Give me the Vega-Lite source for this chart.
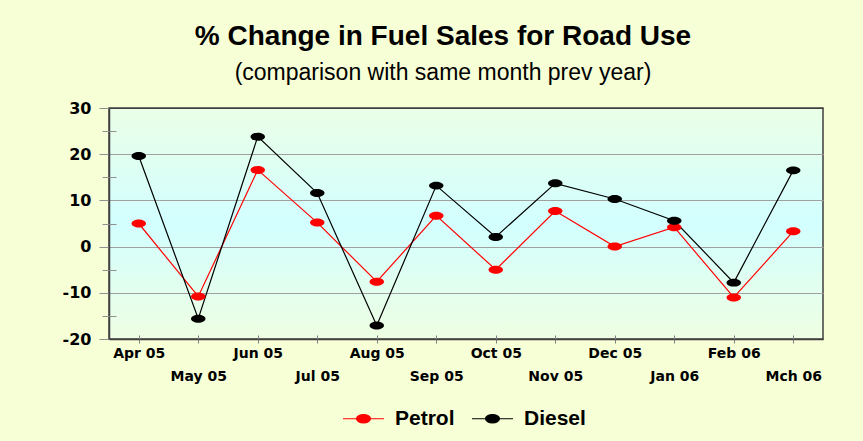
{
  "$schema": "https://vega.github.io/schema/vega-lite/v6.json",
  "width": 714,
  "height": 231,
  "autosize": {"type": "none"},
  "padding": {"left": 109, "top": 108, "right": 40, "bottom": 102},
  "background": "#F7FFD6",
  "title": {
    "text": "% Change in Fuel Sales for Road Use",
    "subtitle": "(comparison with same month prev year)",
    "font": "Liberation Sans",
    "fontSize": 28,
    "fontWeight": "bold",
    "color": "#000000",
    "subtitleFont": "Liberation Sans",
    "subtitleFontSize": 23,
    "subtitleColor": "#000000",
    "subtitlePadding": 11,
    "anchor": "middle",
    "offset": 15,
    "dx": -23
  },
  "config": {
    "view": {
      "stroke": "#404040",
      "strokeWidth": 1.5,
      "fill": {
        "gradient": "linear",
        "x1": 0, "y1": 0, "x2": 0, "y2": 1,
        "stops": [
          {"offset": 0, "color": "#EAFFE6"},
          {"offset": 0.5, "color": "#D2FFFF"},
          {"offset": 1, "color": "#EEFFE2"}
        ]
      }
    },
    "legend": {
      "orient": "none",
      "legendX": 233,
      "legendY": 289,
      "direction": "horizontal",
      "title": null,
      "labelFont": "Liberation Sans",
      "labelFontSize": 21,
      "labelFontWeight": "bold",
      "labelColor": "#000000",
      "symbolType": "M-1,0L1,0M-0.34,0A0.34,0.2 0 1,1 0.34,0A0.34,0.2 0 1,1 -0.34,0Z",
      "symbolSize": 1681,
      "symbolStrokeWidth": 1.2,
      "labelOffset": 10,
      "columnPadding": 14
    }
  },
  "data": {
    "values": [
      {"month": "Apr 05", "fuel": "Petrol", "value": 5.0},
      {"month": "May 05", "fuel": "Petrol", "value": -10.8},
      {"month": "Jun 05", "fuel": "Petrol", "value": 16.6},
      {"month": "Jul 05", "fuel": "Petrol", "value": 5.2},
      {"month": "Aug 05", "fuel": "Petrol", "value": -7.6},
      {"month": "Sep 05", "fuel": "Petrol", "value": 6.7},
      {"month": "Oct 05", "fuel": "Petrol", "value": -5.0},
      {"month": "Nov 05", "fuel": "Petrol", "value": 7.7},
      {"month": "Dec 05", "fuel": "Petrol", "value": 0.0},
      {"month": "Jan 06", "fuel": "Petrol", "value": 4.2},
      {"month": "Feb 06", "fuel": "Petrol", "value": -11.0},
      {"month": "Mch 06", "fuel": "Petrol", "value": 3.3},
      {"month": "Apr 05", "fuel": "Diesel", "value": 19.6},
      {"month": "May 05", "fuel": "Diesel", "value": -15.6},
      {"month": "Jun 05", "fuel": "Diesel", "value": 23.8},
      {"month": "Jul 05", "fuel": "Diesel", "value": 11.6},
      {"month": "Aug 05", "fuel": "Diesel", "value": -17.1},
      {"month": "Sep 05", "fuel": "Diesel", "value": 13.2},
      {"month": "Oct 05", "fuel": "Diesel", "value": 2.1},
      {"month": "Nov 05", "fuel": "Diesel", "value": 13.7},
      {"month": "Dec 05", "fuel": "Diesel", "value": 10.3},
      {"month": "Jan 06", "fuel": "Diesel", "value": 5.6},
      {"month": "Feb 06", "fuel": "Diesel", "value": -7.8},
      {"month": "Mch 06", "fuel": "Diesel", "value": 16.5}
    ]
  },
  "resolve": {"axis": {"x": "independent", "y": "independent"}},
  "layer": [
    {
      "mark": {"type": "line", "strokeWidth": 1.2},
      "encoding": {
        "x": {
          "field": "month", "type": "ordinal",
          "sort": ["Apr 05","May 05","Jun 05","Jul 05","Aug 05","Sep 05","Oct 05","Nov 05","Dec 05","Jan 06","Feb 06","Mch 06"],
          "scale": {"type": "point", "padding": 0.5},
          "axis": {
            "orient": "bottom",
            "title": null,
            "labelAngle": 0,
            "labelOverlap": false,
            "labelFont": "DejaVu Sans",
            "labelFontSize": 14,
            "labelFontWeight": "bold",
            "labelColor": "#000000",
            "labelPadding": 3,
            "labelLineHeight": 23,
            "labelExpr": "round(datum.index * 11) % 2 == 1 ? ['', datum.label] : datum.label",
            "tickSize": 4,
            "tickColor": "#808080",
            "domainColor": "#404040",
            "domainWidth": 1.5,
            "grid": false
          }
        },
        "y": {
          "field": "value", "type": "quantitative",
          "scale": {"domain": [-20, 30], "nice": false, "zero": false},
          "axis": {
            "orient": "left",
            "title": null,
            "values": [-20, -10, 0, 10, 20, 30],
            "labelExpr": "toString(datum.value)",
            "labelFont": "DejaVu Sans",
            "labelFontSize": 16,
            "labelFontWeight": "bold",
            "labelColor": "#000000",
            "labelPadding": 8,
            "tickSize": 10,
            "tickColor": "#909090",
            "domainColor": "#404040",
            "domainWidth": 1.5,
            "grid": true,
            "gridColor": {"condition": {"test": "datum.value == 30 || datum.value == -20", "value": "#404040"}, "value": "#A0A0A0"},
            "gridWidth": 1.2
          }
        },
        "color": {
          "field": "fuel", "type": "nominal",
          "scale": {"domain": ["Petrol", "Diesel"], "range": ["#FF0000", "#000000"]},
          "legend": {
            "encode": {
              "symbols": {
                "update": {
                  "fill": {"scale": "color", "field": "value"},
                  "stroke": {"scale": "color", "field": "value"},
                  "opacity": {"value": 1}
                }
              }
            }
          }
        }
      }
    },
    {
      "mark": {"type": "point", "filled": true, "opacity": 1, "shape": "M-1,0A1,0.55 0 1,1 1,0A1,0.55 0 1,1 -1,0Z", "size": 210},
      "encoding": {
        "x": {
          "field": "month", "type": "ordinal",
          "sort": ["Apr 05","May 05","Jun 05","Jul 05","Aug 05","Sep 05","Oct 05","Nov 05","Dec 05","Jan 06","Feb 06","Mch 06"],
          "axis": {
            "orient": "bottom",
            "title": null,
            "labels": false,
            "domain": false,
            "grid": false,
            "tickSize": -4,
            "tickColor": "#808080"
          }
        },
        "y": {
          "field": "value", "type": "quantitative",
          "axis": {
            "orient": "left",
            "title": null,
            "values": [-15, -5, 5, 15, 25],
            "labels": false,
            "domain": false,
            "grid": false,
            "tickSize": 7,
            "tickColor": "#909090"
          }
        },
        "color": {"field": "fuel", "type": "nominal"}
      }
    },
    {
      "mark": {"type": "point", "opacity": 0},
      "encoding": {
        "x": {
          "field": "month", "type": "ordinal",
          "sort": ["Apr 05","May 05","Jun 05","Jul 05","Aug 05","Sep 05","Oct 05","Nov 05","Dec 05","Jan 06","Feb 06","Mch 06"],
          "axis": null
        },
        "y": {
          "field": "value", "type": "quantitative",
          "axis": {
            "orient": "left",
            "title": null,
            "values": [-15, -5, 5, 15, 25],
            "labels": false,
            "domain": false,
            "grid": false,
            "tickSize": -7,
            "tickColor": "#909090"
          }
        }
      }
    }
  ]
}
